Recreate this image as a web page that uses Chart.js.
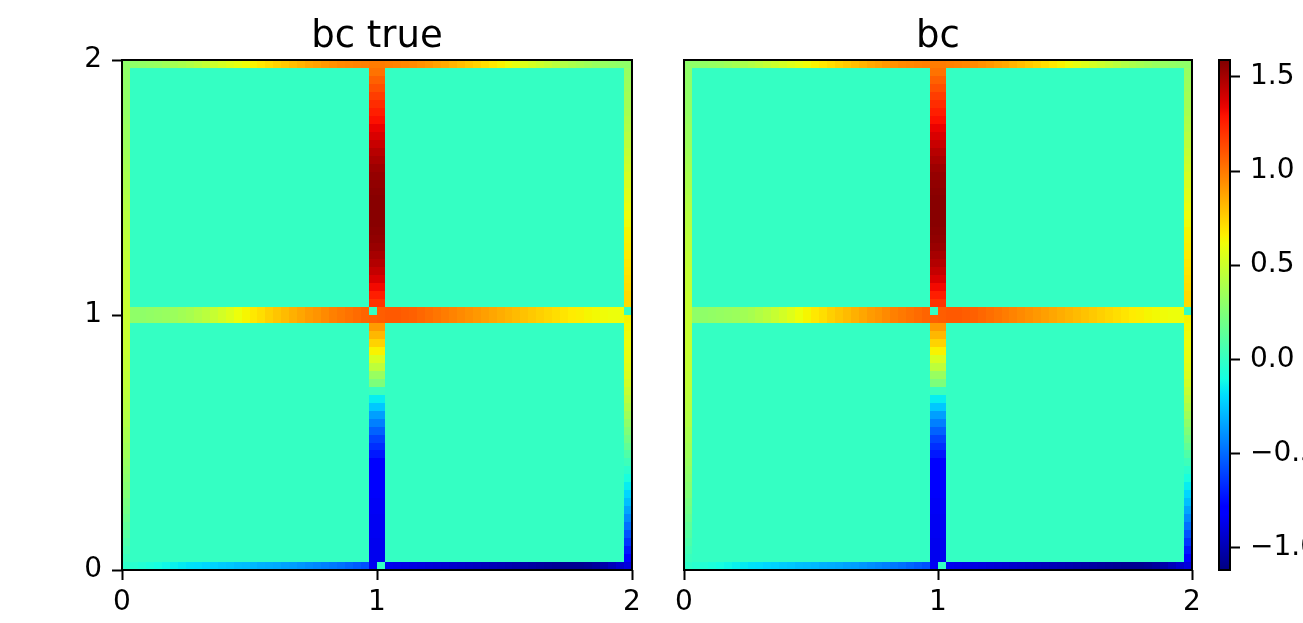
<!DOCTYPE html>
<html>
<head>
<meta charset="utf-8">
<script src="https://cdn.jsdelivr.net/npm/chart.js@4"></script>
<style>
  html, body { margin: 0; padding: 0; background: #fff; overflow: hidden; }
  #wrap { position: relative; width: 1303px; height: 623px; overflow: hidden; background: #fff; }
  canvas { position: absolute; top: 0; }
</style>
</head>
<body>
<div id="wrap">
  <canvas id="left" width="660" height="623" style="left:0px"></canvas>
  <canvas id="right" width="580" height="623" style="left:640px"></canvas>
  <canvas id="cbar" width="150" height="623" style="left:1190px"></canvas>
</div>
<script>
// grid is 64 x 64 cells over [0,2] x [0,2]; everything not listed below is 0
const N = 64;
const titles = ['bc true', 'bc'];
const axisTicks = [0, 1, 2];
const colorTicks = [-1, -0.5, 0, 0.5, 1, 1.5];
const vmin = -1.12, vmax = 1.59;

// row 63, columns 0..63
const topEdge = [0.30,0.30,0.31,0.32,0.33,0.35,0.37,0.39,0.41,0.44,0.47,0.50,0.53,0.56,0.59,0.62,
  0.65,0.68,0.71,0.74,0.77,0.80,0.83,0.86,0.88,0.91,0.93,0.95,0.96,0.97,0.98,0.99,
  0.99,0.98,0.97,0.96,0.95,0.93,0.91,0.88,0.86,0.83,0.80,0.77,0.74,0.71,0.68,0.65,
  0.62,0.59,0.56,0.53,0.50,0.47,0.44,0.41,0.39,0.37,0.35,0.33,0.32,0.31,0.30,0.30];
// row 0, columns 0..63
const bottomEdge = [-0.02,-0.04,-0.06,-0.08,-0.10,-0.12,-0.14,-0.16,-0.18,-0.19,-0.21,-0.22,-0.24,-0.25,-0.27,-0.28,
  -0.29,-0.31,-0.32,-0.33,-0.35,-0.36,-0.38,-0.40,-0.42,-0.44,-0.46,-0.48,-0.51,-0.54,-0.57,-0.85,
  0,-0.86,-0.87,-0.88,-0.89,-0.90,-0.91,-0.92,-0.93,-0.94,-0.95,-0.96,-0.97,-0.98,-0.99,-1.00,
  -1.01,-1.02,-1.03,-1.04,-1.05,-1.06,-1.07,-1.08,-1.08,-1.08,-1.07,-1.05,-1.02,-0.98,-0.94,-0.90];
// column 0, rows 0..63 (bottom to top)
const leftEdge = [-0.02,0.02,0.05,0.08,0.11,0.14,0.17,0.20,0.22,0.25,0.27,0.29,0.31,0.33,0.35,0.36,
  0.38,0.39,0.41,0.42,0.43,0.44,0.45,0.46,0.46,0.47,0.47,0.48,0.48,0.48,0.48,0.48,
  0.48,0.48,0.48,0.47,0.47,0.47,0.46,0.46,0.45,0.45,0.44,0.43,0.43,0.42,0.41,0.40,
  0.39,0.38,0.37,0.36,0.35,0.34,0.33,0.33,0.32,0.31,0.31,0.30,0.30,0.30,0.30,0.30];
// column 63, rows 0..63 (bottom to top)
const rightEdge = [-0.90,-0.80,-0.72,-0.64,-0.56,-0.48,-0.41,-0.34,-0.27,-0.21,-0.15,-0.09,-0.03,0.03,0.09,0.15,
  0.20,0.25,0.30,0.35,0.40,0.44,0.48,0.52,0.55,0.57,0.59,0.60,0.61,0.62,0.63,0.64,
  0,0.72,0.72,0.71,0.70,0.69,0.68,0.67,0.66,0.65,0.64,0.62,0.61,0.60,0.58,0.57,
  0.55,0.53,0.51,0.49,0.47,0.45,0.43,0.41,0.40,0.38,0.37,0.36,0.35,0.34,0.33,0.30];
// columns 31 and 32 (x = 1), rows 0..63
const crossColumn = [-0.85,-0.86,-0.86,-0.86,-0.85,-0.85,-0.85,-0.84,-0.84,-0.83,-0.82,-0.81,-0.80,-0.78,-0.72,-0.66,
  -0.60,-0.52,-0.44,-0.36,-0.25,-0.15,0.02,0.24,0.33,0.45,0.54,0.65,0.74,0.82,0.90,1.08,
  1.08,1.20,1.26,1.32,1.38,1.43,1.47,1.50,1.53,1.55,1.56,1.57,1.57,1.57,1.57,1.56,
  1.55,1.54,1.52,1.49,1.46,1.42,1.38,1.34,1.30,1.26,1.22,1.17,1.12,1.07,1.02,0.98];
// rows 31 and 32 (y = 1), columns 0..63
const crossRow = [0.47,0.30,0.30,0.31,0.32,0.33,0.34,0.36,0.38,0.41,0.44,0.48,0.52,0.56,0.61,0.64,
  0.68,0.71,0.75,0.78,0.81,0.84,0.87,0.90,0.92,0.95,0.98,1.00,1.02,1.04,1.06,1.07,
  1.08,1.09,1.09,1.08,1.07,1.05,1.03,1.01,0.99,0.97,0.95,0.93,0.91,0.89,0.87,0.85,
  0.83,0.81,0.79,0.77,0.75,0.73,0.71,0.69,0.67,0.66,0.64,0.63,0.62,0.61,0.61,0.62];
// [column, row] cells that stay at 0
const holes = [[31, 32]];

Chart.defaults.font.family = 'DejaVu Sans';
Chart.defaults.color = '#000';

const R = [[0,0],[0.35,0],[0.66,1],[0.89,1],[1,0.5]];
const G = [[0,0],[0.125,0],[0.375,1],[0.64,1],[0.91,0],[1,0]];
const B = [[0,0.5],[0.11,1],[0.34,1],[0.65,0],[1,0]];
function seg(pts, t) {
  for (let i = 1; i < pts.length; i++) {
    if (t <= pts[i][0]) {
      const [t0, v0] = pts[i-1], [t1, v1] = pts[i];
      return v0 + (v1 - v0) * (t - t0) / (t1 - t0);
    }
  }
  return pts[pts.length-1][1];
}
function jetT(t) {
  t = Math.min(1, Math.max(0, t));
  return 'rgb(' + Math.round(seg(R,t)*255) + ',' + Math.round(seg(G,t)*255) + ',' + Math.round(seg(B,t)*255) + ')';
}
const jet = v => jetT((v - vmin) / (vmax - vmin));

function buildCells() {
  const g = [];
  for (let r = 0; r < N; r++) g.push(new Array(N).fill(0));
  for (let r = 0; r < N; r++) { g[r][31] = crossColumn[r]; g[r][32] = crossColumn[r]; }
  for (let c = 0; c < N; c++) { g[31][c] = crossRow[c]; g[32][c] = crossRow[c]; }
  for (let r = 0; r < N; r++) { g[r][0] = leftEdge[r]; g[r][N-1] = rightEdge[r]; }
  for (let c = 0; c < N; c++) { g[0][c] = bottomEdge[c]; g[N-1][c] = topEdge[c]; }
  holes.forEach(([c, r]) => { g[r][c] = 0; });
  const cells = [];
  for (let r = 0; r < N; r++)
    for (let c = 0; c < N; c++)
      cells.push({ x: (c + 0.5) * 2 / N, y: (r + 0.5) * 2 / N, v: g[r][c] });
  return cells;
}

function outline(chart) {
  const { ctx, chartArea: a } = chart;
  ctx.save();
  ctx.strokeStyle = '#000';
  ctx.lineWidth = 2;
  ctx.strokeRect(a.left, a.top, a.right - a.left, a.bottom - a.top);
  ctx.restore();
}

const heatPlugin = {
  id: 'heat',
  beforeDatasetsDraw(chart) {
    const { ctx, scales: { x, y } } = chart;
    const h = 1 / N;
    chart.data.datasets[0].data.forEach(p => {
      const x0 = Math.round(x.getPixelForValue(p.x - h)), x1 = Math.round(x.getPixelForValue(p.x + h));
      const y0 = Math.round(y.getPixelForValue(p.y + h)), y1 = Math.round(y.getPixelForValue(p.y - h));
      ctx.fillStyle = jet(p.v);
      ctx.fillRect(x0, y0, x1 - x0, y1 - y0);
    });
  },
  afterDraw: outline
};

const tickFont = { size: 28 };
const gridOpts = { display: true, drawOnChartArea: false, drawTicks: true, tickLength: 10, tickWidth: 2, tickColor: '#000' };

function heatmap(id, title, pad, showY) {
  return new Chart(document.getElementById(id), {
    type: 'scatter',
    data: { datasets: [{ data: buildCells(), pointRadius: 0 }] },
    options: {
      responsive: false, animation: false, devicePixelRatio: 1, events: [],
      layout: { padding: pad },
      plugins: {
        legend: { display: false }, tooltip: { enabled: false },
        title: { display: true, text: title, fullSize: false, font: { size: 37, weight: 'normal' }, color: '#000', padding: { top: 0, bottom: 0 } }
      },
      scales: {
        x: {
          type: 'linear', min: 0, max: 2,
          afterBuildTicks: s => { s.ticks = axisTicks.map(v => ({ value: v })); },
          afterFit: s => { s.height = 53; },
          ticks: { font: tickFont, padding: 6, maxRotation: 0 },
          grid: gridOpts, border: { display: false }
        },
        y: {
          type: 'linear', min: 0, max: 2, display: showY,
          afterBuildTicks: s => { s.ticks = axisTicks.map(v => ({ value: v })); },
          afterFit: s => { s.width = showY ? 122 : 0; },
          ticks: { font: tickFont, padding: 10 },
          grid: gridOpts, border: { display: false }
        }
      }
    },
    plugins: [heatPlugin]
  });
}

heatmap('left', titles[0], { top: 15.6, right: 28, left: 0, bottom: 0 }, true);
heatmap('right', titles[1], { top: 15.6, right: 28, left: 44, bottom: 0 }, false);

const cbarPlugin = {
  id: 'cbar',
  beforeDatasetsDraw(chart) {
    const { ctx, chartArea: a, scales: { y } } = chart;
    const grad = ctx.createLinearGradient(0, y.getPixelForValue(vmin), 0, y.getPixelForValue(vmax));
    for (let i = 0; i <= 64; i++) grad.addColorStop(i / 64, jetT(i / 64));
    ctx.fillStyle = grad;
    ctx.fillRect(a.left, a.top, a.right - a.left, a.bottom - a.top);
  },
  afterDraw: outline
};

new Chart(document.getElementById('cbar'), {
  type: 'scatter',
  data: { datasets: [{ data: [] }] },
  options: {
    responsive: false, animation: false, devicePixelRatio: 1, events: [],
    layout: { padding: { left: 29, top: 60, bottom: 53, right: 0 } },
    plugins: { legend: { display: false }, tooltip: { enabled: false } },
    scales: {
      x: { display: false, min: 0, max: 1 },
      y: {
        position: 'right', min: vmin, max: vmax,
        afterBuildTicks: s => { s.ticks = colorTicks.map(v => ({ value: v })); },
        afterFit: s => { s.width = 110; },
        ticks: { font: tickFont, padding: 10, callback: v => (v < 0 ? '\u2212' : '') + Math.abs(v).toFixed(1) },
        grid: gridOpts, border: { display: false }
      }
    }
  },
  plugins: [cbarPlugin]
});
</script>
</body>
</html>
